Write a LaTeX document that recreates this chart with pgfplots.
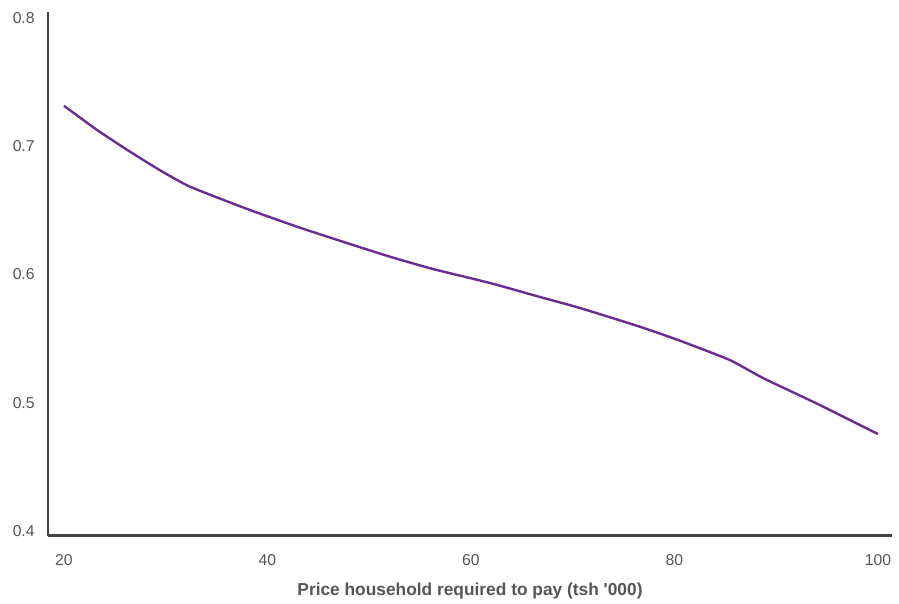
\documentclass[border=0pt]{standalone}
\usepackage{pgfplots}
\pgfplotsset{compat=1.18}
\usepackage{fontspec}
\setmainfont{Liberation Sans}
\definecolor{linepurple}{HTML}{6A2C91}
\definecolor{axisgray}{HTML}{444444}
\definecolor{textgray}{HTML}{555555}
\begin{document}
\begin{tikzpicture}
\useasboundingbox (-36pt,-50.625pt) rectangle (638.25pt,401.625pt);
\begin{axis}[
    scale only axis,
    width=633pt, height=392.6pt,
    xmin=18.43, xmax=101.38,
    ymin=0.3965, ymax=0.8047,
    axis x line=bottom, axis y line=left,
    axis line style={-, axisgray, line width=2pt},
    xtick={20,40,60,80,100},
    ytick={0.4,0.5,0.6,0.7,0.8},
    major tick length=0pt,
    /pgf/number format/assume math mode=true,
    yticklabel style={/pgf/number format/fixed, /pgf/number format/fixed zerofill,
        /pgf/number format/precision=1, xshift=-6.5pt},
    ticklabel style={font=\fontsize{11.8}{13}\selectfont, text=textgray},
    xticklabel style={yshift=-11pt},
    xlabel={Price household required to pay (tsh \textquotesingle 000)},
    xlabel style={at={(axis description cs:0.5,0)}, anchor=center, yshift=-41.6pt,
        font=\fontsize{13}{15}\selectfont\bfseries, text=textgray},
    clip=false,
]
\addplot[linepurple, line width=1.8pt, line join=round, smooth, tension=0.3] coordinates {
    (20.00,0.7316) (23.20,0.7130) (26.49,0.6958) (29.40,0.6815) (32.38,0.6685) (38.28,0.6503)
    (43.20,0.6365) (48.11,0.6238) (52.04,0.6139) (56.27,0.6043) (61.87,0.5934)
    (66.78,0.5825) (70.71,0.5739) (76.61,0.5593) (80.54,0.5484)
    (85.45,0.5333) (88.70,0.5193) (94.30,0.4982) (100.00,0.4756)
};
\end{axis}
\end{tikzpicture}
\end{document}
